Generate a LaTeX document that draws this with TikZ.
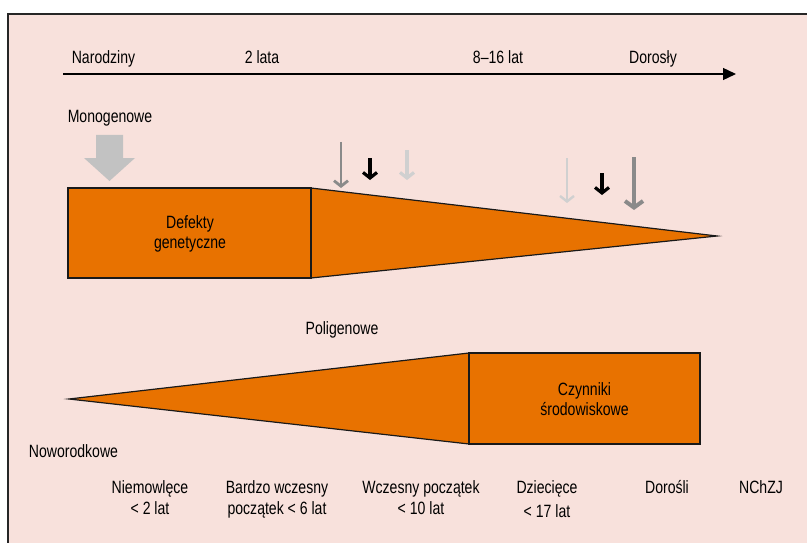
\documentclass[tikz,border=0pt]{standalone}
\usepackage{fontspec}
\setmainfont[FakeStretch=0.79]{Liberation Sans}
\usetikzlibrary{arrows.meta}
\definecolor{bgpink}{HTML}{F8E1DC}
\definecolor{orng}{HTML}{E87200}
\definecolor{midgray}{HTML}{8A8A8A}
\definecolor{lightgray}{HTML}{D0D0D0}
\definecolor{blockgray}{HTML}{C2C2C2}
\tikzset{
  x=1pt, y=-1pt,
  lbl/.style={inner sep=0pt, anchor=base, font=\fontsize{17.8}{20}\selectfont, text=black},
  shp/.style={fill=orng, draw=black!90, line width=1.2pt, line join=miter},
  arr/.style={line width=#1, -{Straight Barb[length=5.5pt, width=14pt, line width=#1]}},
}
\begin{document}
\begin{tikzpicture}
\useasboundingbox (0,0) rectangle (807,543);
\fill[white] (0,0) rectangle (807,543);
\fill[bgpink] (8,14) rectangle (807,543);
\draw[black!85, line width=1.5pt] (8,543) -- (8,14) -- (807,14);

% time axis
\coordinate (axA) at (63,74);
\coordinate (axB) at (736,74);
\draw[line width=1.4pt, -{Triangle[length=13pt, width=12pt]}] (axA) -- (axB);
\node[lbl] (t1) at (103.5,64) {Narodziny};
\node[lbl] (t2) at (262,64) {2 lata};
\node[lbl] (t3) at (498,64) {8–16 lat};
\node[lbl] (t4) at (653,64) {Dorosły};

% monogenic
\node[lbl] (mono) at (110,123) {Monogenowe};
\fill[blockgray] (96,135) -- (123,135) -- (123,158) -- (135,158) -- (109.5,181) -- (84,158) -- (96,158) -- cycle;

\coordinate (r1a) at (68,188);
\coordinate (r1b) at (311,188);
\coordinate (r1c) at (311,278);
\coordinate (r1d) at (68,278);
\coordinate (w1) at (717,236);
\draw[shp] (r1b) -- (w1) -- (r1c) -- cycle;
\draw[shp] (r1a) -- (r1b) -- (r1c) -- (r1d) -- cycle;
\node[lbl] (def1) at (190,228) {Defekty};
\node[lbl] (def2) at (190,248) {genetyczne};

% small arrows
\coordinate (a1s) at (341,142); \coordinate (a1e) at (341,188);
\coordinate (a2s) at (370,158); \coordinate (a2e) at (370,180);
\coordinate (a3s) at (407,150); \coordinate (a3e) at (407,180);
\coordinate (a4s) at (567,158); \coordinate (a4e) at (567,203);
\coordinate (a5s) at (602,173); \coordinate (a5e) at (602,195);
\coordinate (a6s) at (634,157); \coordinate (a6e) at (634,210);
\draw[midgray, arr=2.8pt] (a1s) -- (a1e);
\draw[black, arr=3.2pt] (a2s) -- (a2e);
\draw[lightgray, arr=3.2pt] (a3s) -- (a3e);
\draw[lightgray, arr=2.4pt] (a4s) -- (a4e);
\draw[black, arr=3.2pt] (a5s) -- (a5e);
\draw[midgray, line width=4pt, -{Straight Barb[length=6.5pt, width=18pt, line width=4pt]}] (a6s) -- (a6e);

% polygenic
\node[lbl] (poli) at (342,334) {Poligenowe};
\coordinate (w2) at (69,399);
\coordinate (r2a) at (469,353);
\coordinate (r2b) at (700,353);
\coordinate (r2c) at (700,444);
\coordinate (r2d) at (469,444);
\draw[shp] (w2) -- (r2a) -- (r2d) -- cycle;
\draw[shp] (r2a) -- (r2b) -- (r2c) -- (r2d) -- cycle;
\node[lbl] (cz1) at (584.5,395) {Czynniki};
\node[lbl] (cz2) at (584.5,415) {środowiskowe};

\node[lbl] (nowo) at (73.5,457) {Noworodkowe};

% bottom categories
\node[lbl] (b1a) at (150,493) {Niemowlęce};
\node[lbl] (b1b) at (150,514) {< 2 lat};
\node[lbl] (b2a) at (277,493) {Bardzo wczesny};
\node[lbl] (b2b) at (277,514) {początek < 6 lat};
\node[lbl] (b3a) at (421,493) {Wczesny początek};
\node[lbl] (b3b) at (421,514) {< 10 lat};
\node[lbl] (b4a) at (547,493) {Dziecięce};
\node[lbl] (b4b) at (547,517) {< 17 lat};
\node[lbl] (b5) at (667,493) {Dorośli};
\node[lbl] (b6) at (761,493) {NChZJ};
\end{tikzpicture}
\end{document}
